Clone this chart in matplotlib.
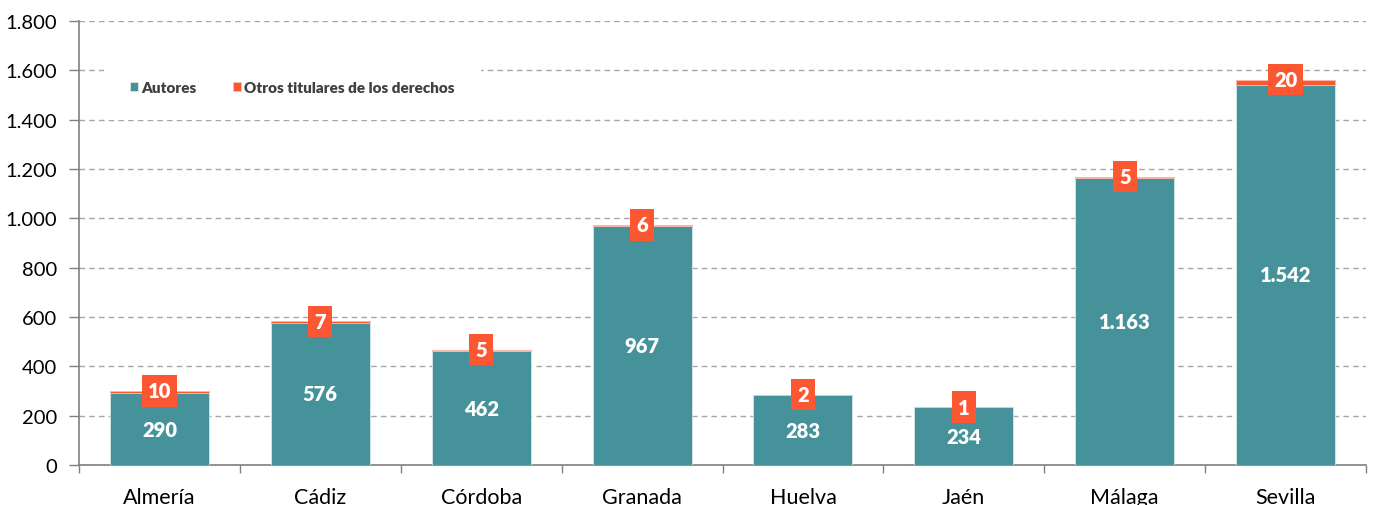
import numpy as np
import matplotlib
matplotlib.use('Agg')
import matplotlib.pyplot as plt
from matplotlib.ticker import FixedLocator, FuncFormatter

provincias = ["Almería", "Cádiz", "Córdoba", "Granada", "Huelva", "Jaén", "Málaga", "Sevilla"]
autores = [290, 576, 462, 967, 283, 234, 1163, 1542]
otros = [10, 7, 5, 6, 2, 1, 5, 20]

TEAL = '#45929b'
ORANGE = '#fc5733'
GRID = '#a6a6a6'

plt.rcParams['font.family'] = ['Lato', 'DejaVu Sans']


def miles(v, pos=None):
    # spanish thousands separator
    return f'{int(v):,}'.replace(',', '.')


fig = plt.figure(figsize=(13.78, 5.06), dpi=100)
ax = fig.add_axes([79 / 1378, 40 / 506, (1366 - 79) / 1378, (466 - 22) / 506])

x = np.arange(len(provincias))
w = 0.615
ax.bar(x, autores, w, color=TEAL, edgecolor='#d8e8ea', linewidth=0.6, label='Autores', zorder=3)
ax.bar(x, otros, w, bottom=autores, color=ORANGE, edgecolor='#fbb9aa', linewidth=0.6,
       label='Otros titulares de los derechos', zorder=3)

for xi, a, o in zip(x, autores, otros):
    ax.text(xi, a / 2, miles(a), ha='center', va='center', color='white',
            fontsize=14.5, fontweight='heavy', zorder=5)
    ax.text(xi, a + o, miles(o), ha='center', va='center', color='white',
            fontsize=14.5, fontweight='heavy', zorder=5,
            bbox=dict(boxstyle='square,pad=0.3', fc=ORANGE, ec='none'))

ax.set_xlim(-0.5, len(provincias) - 0.5)
ax.set_ylim(0, 1800)
ax.yaxis.set_major_locator(FixedLocator(np.arange(0, 1801, 200)))
ax.yaxis.set_major_formatter(FuncFormatter(miles))
ax.yaxis.grid(True, color=GRID, linestyle=(0, (4, 3)), linewidth=1.0, zorder=0)

ax.set_xticks(x)
ax.set_xticklabels(provincias, fontsize=15.5)
ax.xaxis.set_minor_locator(FixedLocator(np.arange(-0.5, len(provincias), 1.0)))
ax.tick_params(axis='x', which='major', length=0, pad=16)
ax.tick_params(axis='x', which='minor', length=6, color='#808080', width=1)
ax.tick_params(axis='y', labelsize=14.5, length=7, color='#808080', width=1, pad=9)

for s in ['top', 'right']:
    ax.spines[s].set_visible(False)
for s in ['left', 'bottom']:
    ax.spines[s].set_color('#808080')
    ax.spines[s].set_linewidth(1.2)

leg = ax.legend(loc='upper left', bbox_to_anchor=(0.012, 0.945), ncol=2, frameon=True,
                prop={'weight': 'heavy', 'size': 11}, handlelength=0.55, handleheight=0.55,
                handletextpad=0.2, columnspacing=2.4, borderpad=1.7, borderaxespad=0.6)
leg.get_frame().set_facecolor('white')
leg.get_frame().set_edgecolor('none')
leg.get_frame().set_alpha(1)
leg.set_zorder(4)
for t in leg.get_texts():
    t.set_color('#404040')

plt.savefig('out.png', dpi=100)
